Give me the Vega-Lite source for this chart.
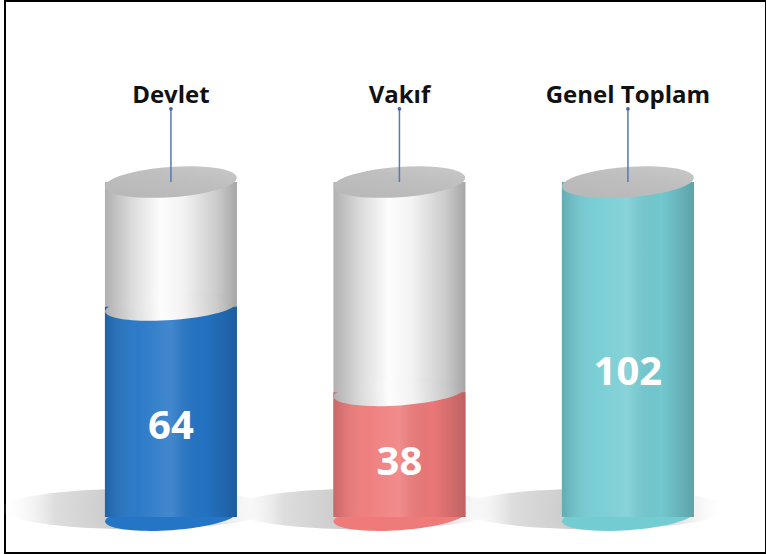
{
  "$schema": "https://vega.github.io/schema/vega-lite/v6.json",
  "width": 761,
  "height": 552,
  "autosize": {"type": "none"},
  "padding": {"left": 5, "top": 1, "right": 0, "bottom": 2},
  "background": "white",
  "config": {"view": {"stroke": "#000000", "strokeWidth": 2}},
  "data": {
    "values": [
      {"kategori": "Devlet", "deger": 64, "toplam": 102},
      {"kategori": "Vakıf", "deger": 38, "toplam": 102},
      {"kategori": "Genel Toplam", "deger": 102, "toplam": 102}
    ]
  },
  "encoding": {
    "x": {
      "field": "kategori",
      "type": "nominal",
      "sort": null,
      "axis": null,
      "scale": {"paddingInner": 0.4223, "paddingOuter": 0.3764, "align": 0.581}
    }
  },
  "layer": [
    {
      "mark": {
        "type": "point",
        "shape": "M-1,0A1,0.15 0 1,0 1,0A1,0.15 0 1,0 -1,0Z",
        "size": 72900,
        "filled": true,
        "opacity": 1,
        "strokeWidth": 0,
        "xOffset": -35,
        "yOffset": -8,
        "fill": {
          "gradient": "radial",
          "x1": 0.5, "y1": 0.5, "r1": 0,
          "x2": 0.5, "y2": 0.5, "r2": 0.5,
          "stops": [
            {"offset": 0, "color": "#c4c4c4"},
            {"offset": 0.6, "color": "#dddddd"},
            {"offset": 1, "color": "rgba(255,255,255,0)"}
          ]
        }
      },
      "encoding": {
        "y": {"datum": 0, "type": "quantitative", "scale": {"domain": [-10.96, 157.12], "nice": false, "zero": false}, "axis": null}
      }
    },
    {
      "mark": {
        "type": "bar",
        "fill": {
          "gradient": "linear", "x1": 0, "y1": 0, "x2": 1, "y2": 0,
          "stops": [
            {"offset": 0, "color": "#b0b0b0"},
            {"offset": 0.2, "color": "#dadada"},
            {"offset": 0.42, "color": "#fdfdfd"},
            {"offset": 0.6, "color": "#f2f2f2"},
            {"offset": 0.85, "color": "#cbcbcb"},
            {"offset": 1, "color": "#a6a6a6"}
          ]
        }
      },
      "encoding": {
        "y": {"field": "toplam", "type": "quantitative", "stack": null},
        "y2": {"datum": 0}
      }
    },
    {
      "mark": {
        "type": "point",
        "shape": "M-1,0A1,0.2 0 1,0 1,0A1,0.2 0 1,0 -1,0Z",
        "size": 17424,
        "angle": -4,
        "filled": true,
        "opacity": 1,
        "strokeWidth": 0
      },
      "encoding": {
        "y": {"datum": 0, "type": "quantitative"},
        "color": {
          "field": "kategori", "type": "nominal", "legend": null,
          "scale": {"domain": ["Devlet", "Vakıf", "Genel Toplam"], "range": ["#2475c6", "#ef7a7a", "#74ccd3"]}
        }
      }
    },
    {
      "mark": {"type": "bar"},
      "encoding": {
        "y": {"field": "deger", "type": "quantitative", "stack": null},
        "y2": {"datum": 0},
        "color": {"field": "kategori", "type": "nominal", "legend": null}
      }
    },
    {
      "mark": {
        "type": "bar",
        "fill": {
          "gradient": "linear", "x1": 0, "y1": 0, "x2": 1, "y2": 0,
          "stops": [
            {"offset": 0, "color": "rgba(0,0,0,0.16)"},
            {"offset": 0.25, "color": "rgba(255,255,255,0.04)"},
            {"offset": 0.5, "color": "rgba(255,255,255,0.14)"},
            {"offset": 0.75, "color": "rgba(0,0,0,0.02)"},
            {"offset": 1, "color": "rgba(0,0,0,0.2)"}
          ]
        }
      },
      "encoding": {
        "y": {"field": "deger", "type": "quantitative", "stack": null},
        "y2": {"datum": 0}
      }
    },
    {
      "transform": [{"filter": "datum.deger < datum.toplam"}],
      "mark": {
        "type": "point",
        "shape": "M-1,0A1,0.2 0 1,0 1,0A1,0.2 0 1,0 -1,0Z",
        "size": 17424,
        "angle": -4,
        "filled": true,
        "opacity": 1,
        "strokeWidth": 0,
        "fill": {
          "gradient": "linear", "x1": 0, "y1": 0, "x2": 1, "y2": 0,
          "stops": [
            {"offset": 0, "color": "#b0b0b0"},
            {"offset": 0.2, "color": "#dadada"},
            {"offset": 0.42, "color": "#fdfdfd"},
            {"offset": 0.6, "color": "#f2f2f2"},
            {"offset": 0.85, "color": "#cbcbcb"},
            {"offset": 1, "color": "#a6a6a6"}
          ]
        }
      },
      "encoding": {
        "y": {"field": "deger", "type": "quantitative"}
      }
    },
    {
      "mark": {
        "type": "point",
        "shape": "M-1,0A1,0.23 0 1,0 1,0A1,0.23 0 1,0 -1,0Z",
        "size": 17424,
        "angle": -4,
        "filled": true,
        "opacity": 1,
        "strokeWidth": 0,
        "fill": {
          "gradient": "linear", "x1": 0, "y1": 1, "x2": 1, "y2": 0,
          "stops": [
            {"offset": 0, "color": "#b6b6b6"},
            {"offset": 0.6, "color": "#bfbfbf"},
            {"offset": 1, "color": "#cbcbcb"}
          ]
        }
      },
      "encoding": {
        "y": {"field": "toplam", "type": "quantitative"}
      }
    },
    {
      "mark": {"type": "rule", "color": "#5677b8", "strokeWidth": 1.5},
      "encoding": {
        "y": {"field": "toplam", "type": "quantitative"},
        "y2": {"datum": 124.3}
      }
    },
    {
      "mark": {"type": "point", "shape": "circle", "size": 14, "filled": true, "opacity": 1, "color": "#4a66a4"},
      "encoding": {
        "y": {"datum": 124.3, "type": "quantitative"}
      }
    },
    {
      "mark": {"type": "text", "font": "Open Sans", "fontWeight": "bold", "fontSize": 24, "color": "#111111", "baseline": "middle", "align": "center"},
      "encoding": {
        "y": {"datum": 128.2, "type": "quantitative"},
        "text": {"field": "kategori"}
      }
    },
    {
      "transform": [{"calculate": "datum.deger * 0.43", "as": "etiket_konum"}],
      "mark": {"type": "text", "font": "Open Sans", "fontWeight": "bold", "fontSize": 40, "color": "#ffffff", "baseline": "middle", "align": "center"},
      "encoding": {
        "y": {"field": "etiket_konum", "type": "quantitative"},
        "text": {"field": "deger", "type": "quantitative"}
      }
    }
  ]
}
